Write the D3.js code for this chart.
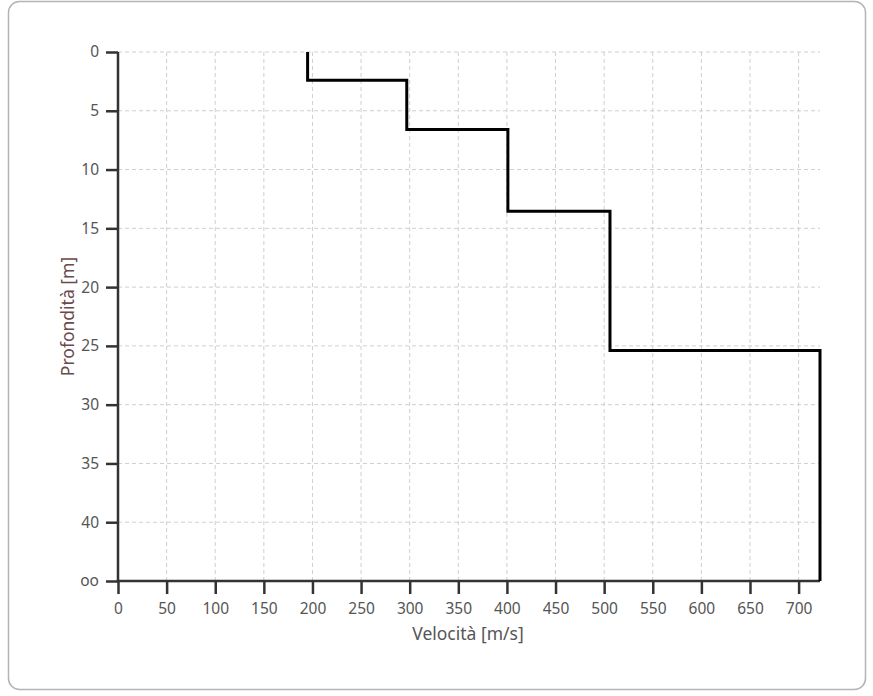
<!DOCTYPE html>
<html>
<head>
<meta charset="utf-8">
<script src="https://cdn.jsdelivr.net/npm/d3@7"></script>
<style>
  html, body { margin: 0; padding: 0; background: #fff; }
  svg { display: block; }
</style>
</head>
<body>
<svg id="chart" width="873" height="696"></svg>
<script>
// Layer boundaries (depth, m) and shear-wave velocity of each layer (m/s)
const depths = [0, 2.4, 6.6, 13.55, 25.4, 45];
const velocities = [195, 297, 401, 506, 722];

const xTicks = [0, 50, 100, 150, 200, 250, 300, 350, 400, 450, 500, 550, 600, 650, 700];
const yTicks = [0, 5, 10, 15, 20, 25, 30, 35, 40, 45];
const yTickLabels = ["0", "5", "10", "15", "20", "25", "30", "35", "40", "oo"];

const svg = d3.select("#chart");
const W = 873, H = 696;
const m = { left: 118, right: 53, top: 52, bottom: 115 };

// Outer rounded frame
svg.append("rect")
  .attr("x", 8.5).attr("y", 1.5)
  .attr("width", 857).attr("height", 688)
  .attr("rx", 11).attr("ry", 11)
  .attr("fill", "#fff")
  .attr("stroke", "#b4b4b4")
  .attr("stroke-width", 1.5);

const x = d3.scaleLinear().domain([0, d3.max(velocities)]).range([m.left, W - m.right]);
const y = d3.scaleLinear().domain([0, d3.max(depths)]).range([m.top, H - m.bottom]);

const font = "'Noto Sans', 'DejaVu Sans', sans-serif";
const gridColor = "#cfcfcf";
const axisColor = "#333";
const labelColor = "#555";

// Dashed grid
const grid = svg.append("g");
grid.selectAll(".gx").data(xTicks.filter(d => d > 0)).enter().append("line")
  .attr("x1", d => x(d)).attr("x2", d => x(d))
  .attr("y1", y(0)).attr("y2", y(45))
  .attr("stroke", gridColor).attr("stroke-width", 1).attr("stroke-dasharray", "4,3");
grid.selectAll(".gy").data(yTicks.filter(d => d < 45)).enter().append("line")
  .attr("x1", x(0)).attr("x2", x(d3.max(velocities)))
  .attr("y1", d => y(d)).attr("y2", d => y(d))
  .attr("stroke", gridColor).attr("stroke-width", 1).attr("stroke-dasharray", "4,3");

// Minor ticks
const xMinor = d3.range(25, d3.max(velocities), 50);
const yMinor = d3.range(2.5, 45, 5);

const gx = svg.append("g").attr("transform", `translate(0,${y(45)})`);
gx.call(d3.axisBottom(x).tickValues(xMinor).tickSize(9).tickFormat(""));
gx.call(d3.axisBottom(x).tickValues(xTicks).tickSize(13).tickPadding(9).tickFormat(d3.format("d")));
gx.selectAll(".domain").remove();
gx.selectAll("line").attr("stroke", axisColor).attr("stroke-width", 2.5);
gx.selectAll("text").attr("fill", labelColor).style("font-family", font).style("font-size", "15.5px");

const gy = svg.append("g").attr("transform", `translate(${x(0)},0)`);
gy.call(d3.axisLeft(y).tickValues(yMinor).tickSize(7).tickFormat(""));
gy.call(d3.axisLeft(y).tickValues(yTicks).tickSize(12).tickPadding(7)
  .tickFormat((d, i) => yTickLabels[i]));
gy.selectAll(".domain").remove();
gy.selectAll("line").attr("stroke", axisColor).attr("stroke-width", 2.5);
gy.selectAll("text").attr("fill", labelColor).style("font-family", font).style("font-size", "15.5px");

// Axis lines
svg.append("line")
  .attr("x1", x(0)).attr("x2", x(0)).attr("y1", y(0)).attr("y2", y(45) + 1.25)
  .attr("stroke", axisColor).attr("stroke-width", 2.5);
svg.append("line")
  .attr("x1", x(0) - 1.25).attr("x2", x(d3.max(velocities))).attr("y1", y(45)).attr("y2", y(45))
  .attr("stroke", axisColor).attr("stroke-width", 2.5);

// Velocity profile as a stepped line
const pts = [];
velocities.forEach((v, i) => {
  pts.push([v, depths[i]]);
  pts.push([v, depths[i + 1]]);
});
svg.append("path")
  .datum(pts)
  .attr("fill", "none")
  .attr("stroke", "#000")
  .attr("stroke-width", 3)
  .attr("stroke-linejoin", "miter")
  .attr("d", d3.line().x(d => x(d[0])).y(d => y(d[1])));

// Axis titles
svg.append("text")
  .attr("x", (x(0) + x(d3.max(velocities))) / 2 - 1)
  .attr("y", 640)
  .attr("text-anchor", "middle")
  .attr("fill", "#555")
  .style("font-family", font).style("font-size", "17.5px")
  .text("Velocità [m/s]");
svg.append("text")
  .attr("transform", `translate(74,${(y(0) + y(45)) / 2}) rotate(-90)`)
  .attr("text-anchor", "middle")
  .attr("fill", "#6a4a4a")
  .style("font-family", font).style("font-size", "17.5px")
  .text("Profondità [m]");
</script>
</body>
</html>
